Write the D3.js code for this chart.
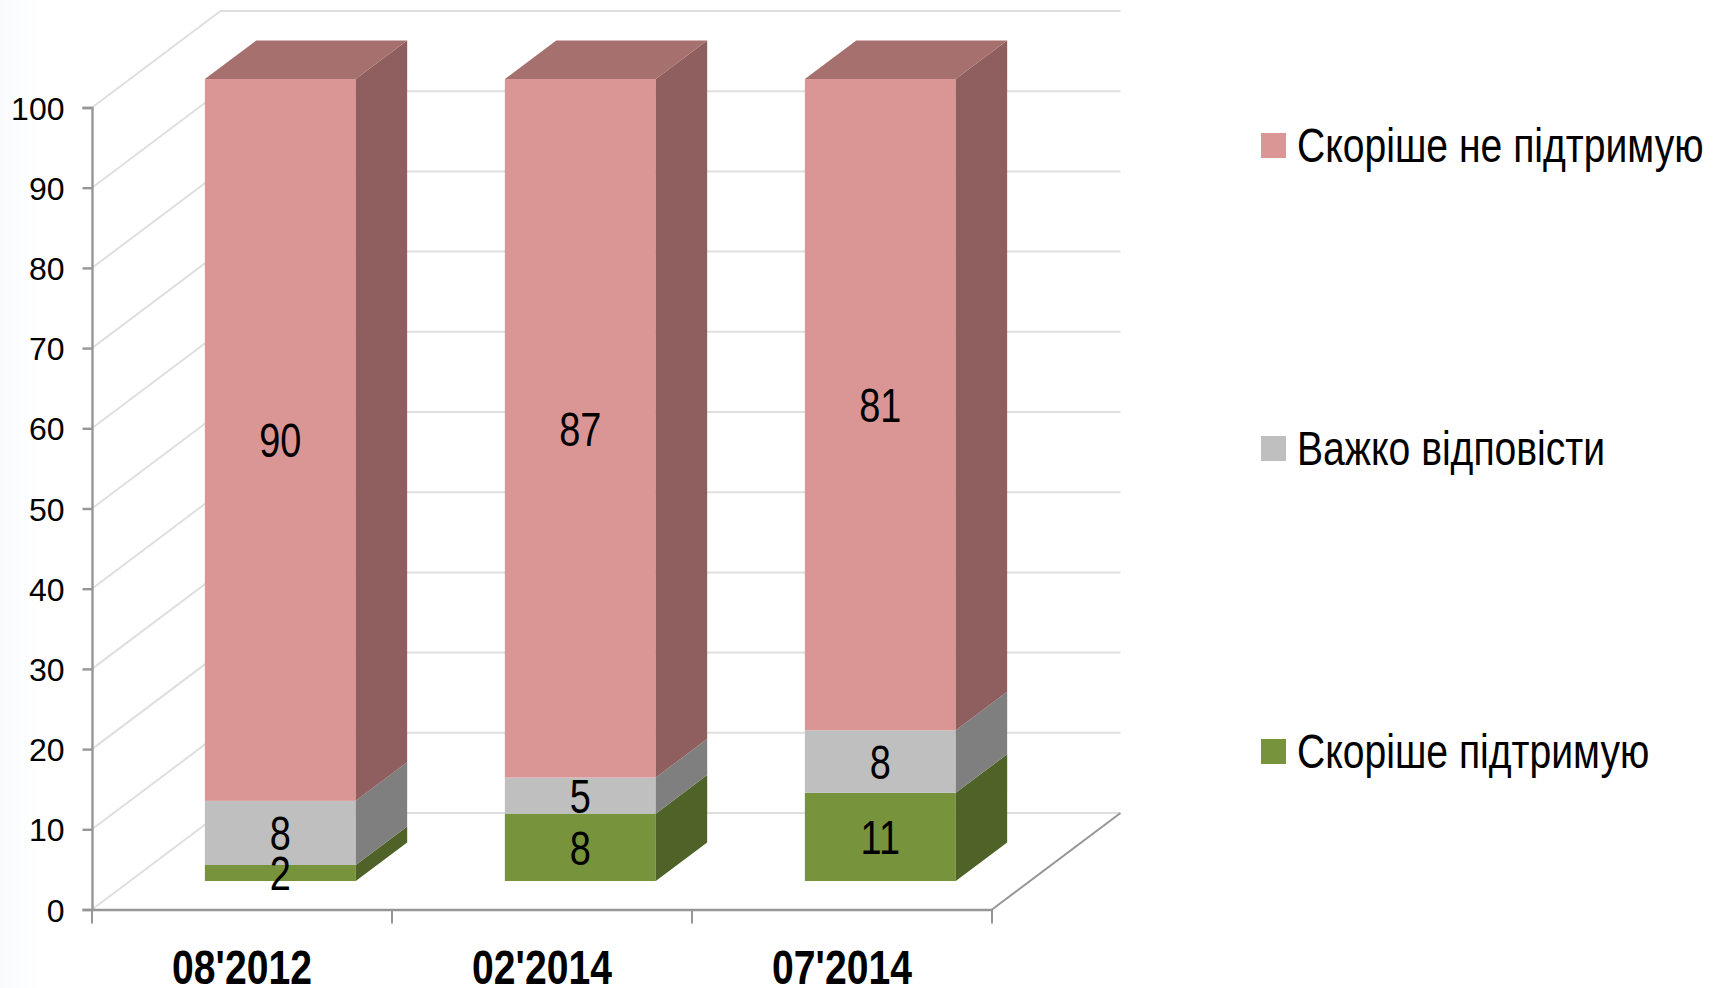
<!DOCTYPE html>
<html>
<head>
<meta charset="utf-8">
<script src="https://cdnjs.cloudflare.com/ajax/libs/d3/7.8.5/d3.min.js"></script>
<style>
    html, body { margin: 0; padding: 0; background: #fff; overflow: hidden; }
    svg { display: block; }
    text { font-family: "Liberation Sans", Arial, sans-serif; fill: #000; }
</style>
</head>
<body>
<svg id="chart" width="1714" height="988"></svg>
<script>
// data
const periods = ["08'2012", "02'2014", "07'2014"];
const support = [2, 8.4, 11];      // Скоріше підтримую
const hardToSay = [8, 4.5, 7.8];   // Важко відповісти
const oppose = [90, 87.1, 81.2];   // Скоріше не підтримую
const yTicks = [0, 10, 20, 30, 40, 50, 60, 70, 80, 90, 100];

const seriesNames = ["Скоріше не підтримую", "Важко відповісти", "Скоріше підтримую"];

// front, side, top
const COL = {
    support: ["#77933c", "#4f6228", "#5f7630"],
    hard:    ["#bfbfbf", "#7f7f7f", "#989898"],
    oppose:  ["#da9694", "#8e5f5e", "#a6706f"]
};
const AXIS = "#969696", GRID = "#dfdfdf";

// fake 3d box
const DEPTH_X = 128.5, DEPTH_Y = 96.5;
const BAR_FRONT = 0.295, BAR_DEPTH = 0.4, BAR_W = 0.503;

// no narrow font on the box, squeeze the regular one instead
const NARROW = "scale(0.815,1)", NARROW_NUM = "scale(0.79,1)";

const svg = d3.select("#chart");

const x = d3.scaleBand().domain(periods).range([92, 992]);
const y = d3.scaleLinear().domain([0, 100]).range([909.5, 107.5]);

// faint bluish fade on the left edge
const grad = svg.append("defs").append("linearGradient").attr("id", "edge");
grad.append("stop").attr("offset", "0%").attr("stop-color", "#f8fafd");
grad.append("stop").attr("offset", "100%").attr("stop-color", "#ffffff");
svg.append("rect").attr("width", 40).attr("height", 988).attr("fill", "url(#edge)");

// ─── gridlines: side wall + back wall ───
const gridG = svg.append("g");
yTicks.forEach(t => {
    gridG.append("path")
        .attr("d", d3.line()([
            [x.range()[0], y(t)],
            [x.range()[0] + DEPTH_X, y(t) - DEPTH_Y],
            [x.range()[1] + DEPTH_X, y(t) - DEPTH_Y]
        ]))
        .attr("fill", "none").attr("stroke", GRID).attr("stroke-width", 2);
});

// floor edge on the right
svg.append("line")
    .attr("x1", x.range()[1]).attr("y1", y(0))
    .attr("x2", x.range()[1] + DEPTH_X).attr("y2", y(0) - DEPTH_Y)
    .attr("stroke", AXIS).attr("stroke-width", 2);

// ─── axes ───
const yAx = svg.append("g")
    .attr("transform", `translate(${x.range()[0]},0)`)
    .call(d3.axisLeft(y).tickValues(yTicks).tickSize(9.5).tickPadding(18));
yAx.selectAll("text").attr("font-size", 32).attr("dy", "0.36em");
yAx.selectAll("line,.domain").attr("stroke", AXIS).attr("stroke-width", 2.4);

const xAx = svg.append("g")
    .attr("transform", `translate(0,${y(0)})`)
    .call(d3.axisBottom(x).tickSize(0).tickPadding(40));
xAx.selectAll("text").attr("font-size", 48).attr("font-weight", 700).attr("transform", NARROW);
xAx.selectAll(".domain").attr("stroke", AXIS).attr("stroke-width", 2.6);

// tick marks sit on the band edges
[...periods.map(p => x(p)), x.range()[1]].forEach(tx => {
    xAx.append("line").attr("x1", tx).attr("x2", tx).attr("y1", 0).attr("y2", 14)
        .attr("stroke", AXIS).attr("stroke-width", 2);
});

// ─── bars ───
const barsG = svg.append("g");
const labelG = svg.append("g");
const base = DEPTH_Y * BAR_FRONT;
const dx = DEPTH_X * BAR_DEPTH, dy = DEPTH_Y * BAR_DEPTH;

periods.forEach((p, i) => {
    const bw = x.bandwidth() * BAR_W;
    const x0 = x(p) + (x.bandwidth() - bw) / 2 + DEPTH_X * BAR_FRONT + 0.4;
    const x1 = x0 + bw;
    const parts = [
        { v: support[i], c: COL.support },
        { v: hardToSay[i], c: COL.hard },
        { v: oppose[i], c: COL.oppose }
    ];
    let acc = 0;
    parts.forEach((d, k) => {
        const yb = y(acc) - base, yt = y(acc + d.v) - base;
        acc += d.v;
        barsG.append("rect")
            .attr("x", x0).attr("y", yt).attr("width", bw).attr("height", yb - yt)
            .attr("fill", d.c[0]);
        barsG.append("polygon")
            .attr("points", [[x1, yb], [x1 + dx, yb - dy], [x1 + dx, yt - dy], [x1, yt]].join(" "))
            .attr("fill", d.c[1]);
        if (k === parts.length - 1) {
            barsG.append("polygon")
                .attr("points", [[x0, yt], [x0 + dx, yt - dy], [x1 + dx, yt - dy], [x1, yt]].join(" "))
                .attr("fill", d.c[2]);
        }
        labelG.append("text")
            .attr("transform", `translate(${(x0 + x1) / 2},${(yb + yt) / 2}) ${NARROW_NUM}`)
            .attr("dy", "0.36em").attr("text-anchor", "middle")
            .attr("font-size", 48)
            .text(Math.round(d.v));
    });
});

// ─── legend ───
const legendY = d3.scalePoint().domain(seriesNames).range([133, 739]);
const legendCol = [COL.oppose[0], COL.hard[0], COL.support[0]];
seriesNames.forEach((s, i) => {
    svg.append("rect")
        .attr("x", 1261).attr("y", legendY(s)).attr("width", 25).attr("height", 25)
        .attr("fill", legendCol[i]);
    svg.append("text")
        .attr("transform", `translate(1297,${legendY(s) + 28.5}) ${NARROW}`)
        .attr("font-size", 48)
        .text(s);
});
</script>
</body>
</html>
